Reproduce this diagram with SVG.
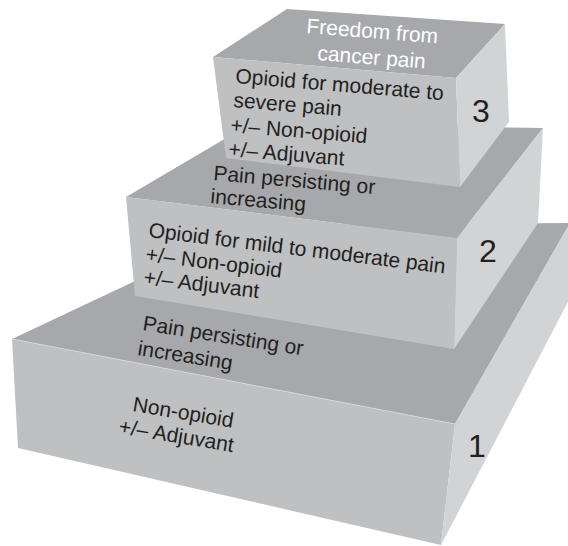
<svg xmlns="http://www.w3.org/2000/svg" width="568" height="546" viewBox="0 0 568 546">
<style>
.top{fill:#a7a8ab}
.front{fill:#bfc0c2}
.side{fill:#d2d3d5}
.t{font-family:"Liberation Sans",Arial,sans-serif;font-size:21px;fill:#231f20}
.w{fill:#ffffff}
.num{font-family:"Liberation Sans",Arial,sans-serif;font-size:32px;fill:#231f20;text-anchor:middle}
</style>
<rect width="568" height="546" fill="#ffffff"/>
<g id="step1">
<polygon class="top" points="12,339 254,225 570,223 455,424"/>
<polygon class="front" points="12,339 455,424 441,545 18,448"/>
<polygon class="side" points="455,424 570,223 570,298 441,545"/>
<line x1="12" y1="339" x2="455" y2="424" stroke="#d8d9db" stroke-width="0.8"/>
<text class="t" transform="translate(142,330) rotate(9)">Pain persisting or</text>
<text class="t" transform="translate(137,355) rotate(9)">increasing</text>
<text class="t" transform="translate(132,411) rotate(9.5)">Non-opioid</text>
<text class="t" transform="translate(118,433) rotate(9.5)">+/– Adjuvant</text>
<text class="num" x="477" y="457">1</text>
</g>
<g id="step2">
<polygon class="top" points="126,197 250,124 543,128 457,238"/>
<polygon class="front" points="126,197 457,238 454,349 135,296"/>
<polygon class="side" points="457,238 543,128 538,223 454,349"/>
<text class="t" transform="translate(213,180) rotate(5)">Pain persisting or</text>
<text class="t" transform="translate(210,203) rotate(5)">increasing</text>
<text class="t" transform="translate(148,237) rotate(7)">Opioid for mild to moderate pain</text>
<text class="t" transform="translate(145,261) rotate(7)">+/– Non-opioid</text>
<text class="t" transform="translate(143,284) rotate(7)">+/– Adjuvant</text>
<text class="num" x="488" y="262">2</text>
</g>
<g id="step3">
<polygon class="top" points="213,57 287,9 505,24 456,78"/>
<polygon class="front" points="213,57 456,78 460,187 226,158"/>
<polygon class="side" points="456,78 505,24 509,122 460,187"/>
<text class="t w" transform="translate(306,33) rotate(4.5)">Freedom from</text>
<text class="t w" transform="translate(317,60) rotate(4.5)">cancer pain</text>
<text class="t" transform="translate(235,83) rotate(4.7)">Opioid for moderate to</text>
<text class="t" transform="translate(233,107) rotate(4.7)">severe pain</text>
<text class="t" transform="translate(230,132) rotate(4.7)">+/– Non-opioid</text>
<text class="t" transform="translate(228,156) rotate(4.7)">+/– Adjuvant</text>
<text class="num" x="481" y="122">3</text>
</g>
<g id="connectors"/>
</svg>
